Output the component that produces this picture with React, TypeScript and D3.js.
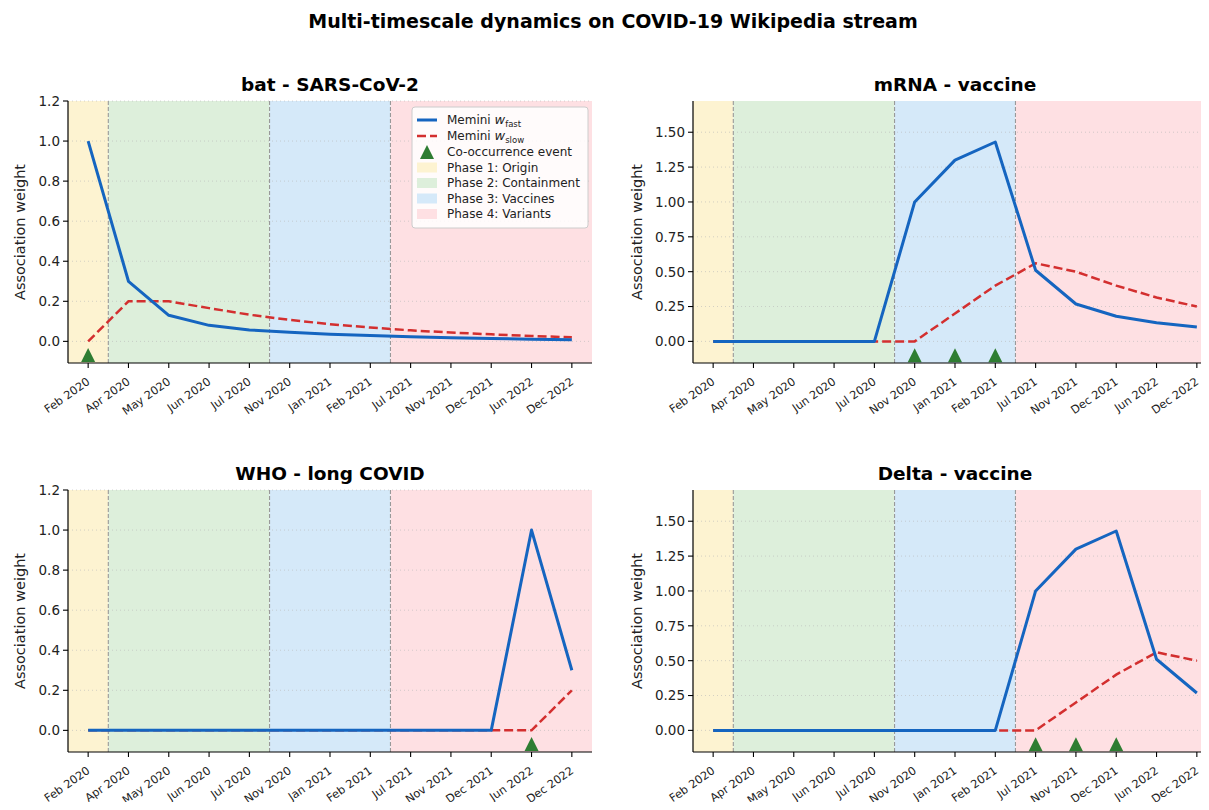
import React from 'react';
import * as d3 from 'd3';

// Monthly snapshots shared by every panel
const months = [
  'Feb 2020', 'Apr 2020', 'May 2020', 'Jun 2020', 'Jul 2020', 'Nov 2020', 'Jan 2021',
  'Feb 2021', 'Jul 2021', 'Nov 2021', 'Dec 2021', 'Jun 2022', 'Dec 2022',
];

// Phase spans, in month-index units
const phaseNames = ['Phase 1: Origin', 'Phase 2: Containment', 'Phase 3: Vaccines', 'Phase 4: Variants'];
const phaseStart = [-0.5, 0.5, 4.5, 7.5];
const phaseEnd = [0.5, 4.5, 7.5, 12.5];
const phaseColors = ['#fdf3d1', '#ddefdb', '#d5e9f9', '#fee0e3'];

// bat - SARS-CoV-2
const batFast = [1.0, 0.3, 0.13, 0.08, 0.057, 0.045, 0.036, 0.029, 0.023, 0.018, 0.014, 0.011, 0.008];
const batSlow = [0.0, 0.2, 0.2, 0.166, 0.133, 0.107, 0.086, 0.069, 0.055, 0.044, 0.035, 0.027, 0.02];
const batEvents = [0];

// mRNA - vaccine
const mrnaFast = [0, 0, 0, 0, 0, 1.0, 1.3, 1.43, 0.51, 0.268, 0.18, 0.134, 0.104];
const mrnaSlow = [0, 0, 0, 0, 0, 0, 0.2, 0.4, 0.56, 0.5, 0.4, 0.315, 0.25];
const mrnaEvents = [5, 6, 7];

// WHO - long COVID
const whoFast = [0, 0, 0, 0, 0, 0, 0, 0, 0, 0, 0, 1.0, 0.3];
const whoSlow = [0, 0, 0, 0, 0, 0, 0, 0, 0, 0, 0, 0, 0.2];
const whoEvents = [11];

// Delta - vaccine
const deltaFast = [0, 0, 0, 0, 0, 0, 0, 0, 1.0, 1.3, 1.43, 0.51, 0.268];
const deltaSlow = [0, 0, 0, 0, 0, 0, 0, 0, 0, 0.2, 0.4, 0.56, 0.5];
const deltaEvents = [8, 9, 10];

const smallTicks = [0, 0.2, 0.4, 0.6, 0.8, 1.0, 1.2];
const bigTicks = [0, 0.25, 0.5, 0.75, 1.0, 1.25, 1.5];

const FONT = '"DejaVu Sans", Verdana, sans-serif';
const BLUE = '#1565c0';
const RED = '#d32f2f';
const GREEN = '#2e7d32';

// matplotlib-like '^' marker: width == height
const triangleUp = {
  draw(ctx: any, size: number) {
    const h = Math.sqrt(size) / 2;
    ctx.moveTo(0, -h);
    ctx.lineTo(h, h);
    ctx.lineTo(-h, h);
    ctx.closePath();
  },
};
const marker = d3.symbol(triangleUp as any, 196)();

const panels = [
  { title: 'bat - SARS-CoV-2', fast: batFast, slow: batSlow, events: batEvents, yDomain: [-0.108, 1.2], ticks: smallTicks, fmt: d3.format('.1f'), eventY: -0.068, col: 0, row: 0, legend: true, labelOff: 43 },
  { title: 'mRNA - vaccine', fast: mrnaFast, slow: mrnaSlow, events: mrnaEvents, yDomain: [-0.155, 1.724], ticks: bigTicks, fmt: d3.format('.2f'), eventY: -0.099, col: 1, row: 0, legend: false, labelOff: 51 },
  { title: 'WHO - long COVID', fast: whoFast, slow: whoSlow, events: whoEvents, yDomain: [-0.108, 1.2], ticks: smallTicks, fmt: d3.format('.1f'), eventY: -0.068, col: 0, row: 1, legend: false, labelOff: 43 },
  { title: 'Delta - vaccine', fast: deltaFast, slow: deltaSlow, events: deltaEvents, yDomain: [-0.155, 1.724], ticks: bigTicks, fmt: d3.format('.2f'), eventY: -0.099, col: 1, row: 1, legend: false, labelOff: 51 },
];

const colX = [68, 693];
const rowY = [101, 490];
const pw = 524;
const ph = 262;

const Legend = ({ x, y }: { x: number; y: number }) => {
  const rowH = 16;
  const items = [0, 1, 2, 3, 4, 5, 6];
  return (
    <g transform={`translate(${x},${y})`} fontFamily={FONT} fontSize={12}>
      <rect x={0} y={0} width={176} height={121} rx={3} fill="#fff" fillOpacity={0.85} stroke="#cccccc" />
      {items.map((i) => {
        const cy = 13 + i * rowH - (i > 2 ? 0.5 * (i - 2) : 0);
        let handle: React.ReactNode;
        if (i === 0) handle = <line x1={5} x2={25} y1={cy} y2={cy} stroke={BLUE} strokeWidth={3} />;
        else if (i === 1) handle = <line x1={5} x2={25} y1={cy} y2={cy} stroke={RED} strokeWidth={2.5} strokeDasharray="9,4" />;
        else if (i === 2) handle = <path d={marker} transform={`translate(15,${cy})`} fill={GREEN} />;
        else handle = <rect x={5} y={cy - 5} width={20} height={10} fill={phaseColors[i - 3]} />;
        let label: React.ReactNode;
        if (i < 2) {
          label = (
            <text x={35} y={cy} dy="0.35em" fill="#222">
              Memini <tspan fontStyle="italic" fontSize={13}>w</tspan>
              <tspan fontSize={8.5} dy={3}>{i === 0 ? 'fast' : 'slow'}</tspan>
            </text>
          );
        } else if (i === 2) {
          label = <text x={35} y={cy} dy="0.35em" fill="#222">Co-occurrence event</text>;
        } else {
          label = <text x={35} y={cy} dy="0.35em" fill="#222">{phaseNames[i - 3]}</text>;
        }
        return <g key={i}>{handle}{label}</g>;
      })}
    </g>
  );
};

const Panel = ({ p }: { p: (typeof panels)[number] }) => {
  const x0 = colX[p.col];
  const y0 = rowY[p.row];
  const x = d3.scaleLinear().domain([-0.5, months.length - 0.5]).range([x0, x0 + pw]);
  const y = d3.scaleLinear().domain(p.yDomain).range([y0 + ph, y0]);
  const line = d3.line<number>().x((_, i) => x(i)).y((d) => y(d));
  const bottom = y0 + ph;

  return (
    <g fontFamily={FONT}>
      {phaseStart.map((s, i) => (
        <rect key={i} x={x(s)} y={y0} width={x(phaseEnd[i]) - x(s)} height={ph} fill={phaseColors[i]} />
      ))}
      {p.ticks.map((t) => (
        <line key={t} x1={x0} x2={x0 + pw} y1={y(t)} y2={y(t)} stroke="#b8b8b8" strokeOpacity={0.6} strokeDasharray="1,3" />
      ))}
      {phaseStart.slice(1).map((s) => (
        <line key={s} x1={x(s)} x2={x(s)} y1={y0} y2={bottom} stroke="#999" strokeWidth={1.1} strokeDasharray="4,2" />
      ))}
      <path d={line(p.slow) ?? ''} fill="none" stroke={RED} strokeWidth={2.5} strokeDasharray="9,4" />
      <path d={line(p.fast) ?? ''} fill="none" stroke={BLUE} strokeWidth={3} strokeLinejoin="round" />
      {p.events.map((e) => (
        <path key={e} d={marker} transform={`translate(${x(e)},${y(p.eventY)})`} fill={GREEN} />
      ))}
      {/* spines */}
      <line x1={x0} x2={x0} y1={y0} y2={bottom} stroke="#000" strokeWidth={1.2} />
      <line x1={x0} x2={x0 + pw} y1={bottom} y2={bottom} stroke="#000" strokeWidth={1.2} />
      {/* y ticks */}
      {p.ticks.map((t) => (
        <g key={t}>
          <line x1={x0 - 5} x2={x0} y1={y(t)} y2={y(t)} stroke="#000" strokeWidth={1.1} />
          <text x={x0 - 8} y={y(t)} dy="0.36em" textAnchor="end" fontSize={13.5} fill="#222">
            {p.fmt(t)}
          </text>
        </g>
      ))}
      {/* x ticks */}
      {months.map((m, i) => (
        <g key={m}>
          <line x1={x(i)} x2={x(i)} y1={bottom} y2={bottom + 5} stroke="#000" strokeWidth={1.1} />
          <text transform={`translate(${x(i) - 2},${bottom + 14}) rotate(-35)`} dy="0.7em" textAnchor="end" fontSize={11.3} fill="#222">
            {m}
          </text>
        </g>
      ))}
      <text transform={`translate(${x0 - p.labelOff},${y0 + ph / 2}) rotate(-90)`} textAnchor="middle" fontSize={14.5} fill="#222">
        Association weight
      </text>
      <text x={x0 + pw / 2} y={y0 - 10} textAnchor="middle" fontSize={18.5} fontWeight="bold" fill="#000">
        {p.title}
      </text>
      {p.legend && <Legend x={x0 + pw - 180} y={y0 + 6} />}
    </g>
  );
};

export default function App() {
  return (
    <svg width={1209} height={810} style={{ display: 'block', margin: '-8px', background: '#fff' }}>
      <rect width={1209} height={810} fill="#fff" />
      <text x={613} y={28} textAnchor="middle" fontFamily={FONT} fontWeight="bold" fontSize={19} fill="#000">
        Multi-timescale dynamics on COVID-19 Wikipedia stream
      </text>
      {panels.map((p) => (
        <Panel key={p.title} p={p} />
      ))}
    </svg>
  );
}
